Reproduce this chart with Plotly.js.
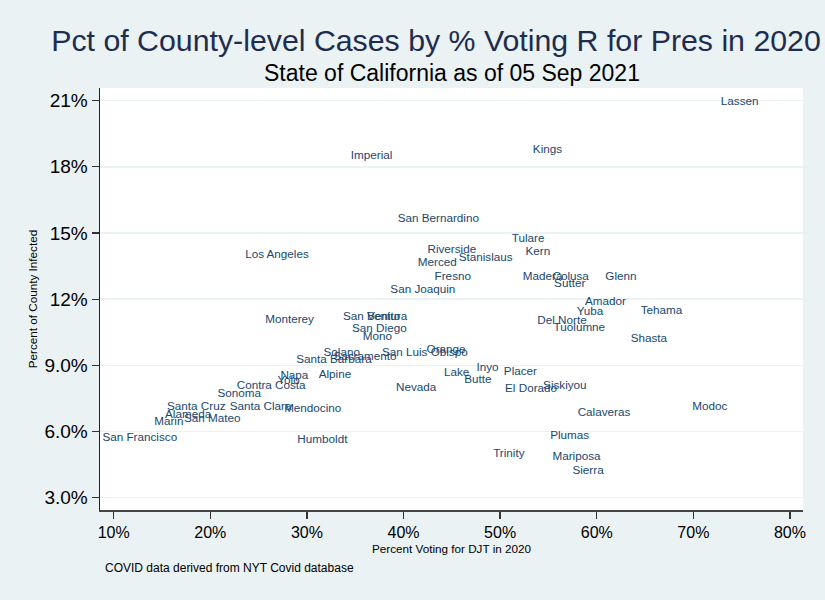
<!DOCTYPE html>
<html>
<head>
<meta charset="utf-8">
<script src="https://cdn.plot.ly/plotly-3.0.1.min.js"></script>
<style>html,body{margin:0;padding:0;background:#EAF2F3;}#chart{width:825px;height:600px;}</style>
</head>
<body>
<div id="chart"></div>
<script>
var counties = ["Lassen","Kings","Imperial","San Bernardino","Tulare","Kern","Riverside","Stanislaus","Merced","Los Angeles","Fresno","San Joaquin","Madera","Colusa","Sutter","Glenn","Amador","Yuba","Tehama","Del Norte","Tuolumne","Shasta","Placer","Inyo","Butte","Lake","El Dorado","Siskiyou","Calaveras","Modoc","Plumas","Trinity","Mariposa","Sierra","Nevada","Orange","San Luis Obispo","Sacramento","Solano","Santa Barbara","Alpine","San Benito","Ventura","San Diego","Mono","Monterey","Napa","Yolo","Contra Costa","Sonoma","Santa Cruz","Santa Clara","Mendocino","Alameda","San Mateo","Marin","San Francisco","Humboldt"];
var pctVotingDJT = [74.8,54.9,36.7,43.6,52.9,53.9,45.0,48.5,43.5,26.9,45.1,42.0,54.4,57.3,57.2,62.5,60.9,59.3,66.7,56.4,58.2,65.4,52.1,48.7,47.7,45.5,53.2,56.7,60.75,71.7,57.2,50.9,57.9,59.1,41.3,44.4,42.2,36.0,33.6,32.8,32.9,36.7,38.3,37.5,37.3,28.2,28.7,28.1,26.3,23.0,18.55,25.2,30.6,17.7,20.2,15.7,12.7,31.6];
var pctInfected = [20.94,18.77,18.49,15.64,14.73,14.14,14.24,13.87,13.65,14.01,13.01,12.42,13.0,13.0,12.69,13.0,11.89,11.41,11.44,10.99,10.71,10.19,8.68,8.87,8.31,8.65,7.92,8.04,6.84,7.11,5.81,4.98,4.84,4.19,7.97,9.67,9.55,9.37,9.55,9.22,8.54,11.21,11.19,10.64,10.28,11.06,8.49,8.30,8.04,7.70,7.11,7.11,7.03,6.76,6.58,6.41,5.70,5.59];
var xTickVals = [10,20,30,40,50,60,70,80];
var xTickText = ["10%","20%","30%","40%","50%","60%","70%","80%"];
var yTickVals = [3,6,9,12,15,18,21];
var yTickText = ["3.0%","6.0%","9.0%","12%","15%","18%","21%"];

var font = "Liberation Sans, Arial, sans-serif";
var trace = {
  x: pctVotingDJT, y: pctInfected, text: counties,
  mode: "text", type: "scatter", textposition: "middle center",
  textfont: {family: font, size: 11.7, color: "#1a476f"},
  hoverinfo: "text", showlegend: false, cliponaxis: false
};
var layout = {
  width: 825, height: 600,
  paper_bgcolor: "#EAF2F3", plot_bgcolor: "#ffffff",
  margin: {l: 100, r: 22, t: 88, b: 90},
  font: {family: font, color: "#000"},
  title: {text: "Pct of County-level Cases by % Voting R for Pres in 2020",
    font: {family: font, size: 30.3, color: "#1e2d4f"},
    xref: "container", yref: "container", x: 436/825, xanchor: "center",
    y: 1 - 40/600, yanchor: "middle"},
  xaxis: {range: [8.58, 81.35], tickvals: xTickVals, ticktext: xTickText,
    showgrid: false, zeroline: false, showline: true, linecolor: "#444", linewidth: 1.5,
    ticks: "outside", ticklen: 7, tickcolor: "#333", tickwidth: 1.3,
    tickfont: {family: font, size: 16, color: "#000"},
    title: {text: "Percent Voting for DJT in 2020", font: {family: font, size: 11.7, color: "#000"}, standoff: 5}},
  yaxis: {range: [2.44, 21.575], tickvals: yTickVals, ticktext: yTickText,
    showgrid: true, gridcolor: "#EAF2F3", gridwidth: 1.5, zeroline: false,
    showline: true, linecolor: "#222", linewidth: 1.5,
    ticks: "outside", ticklen: 7, tickcolor: "#333", tickwidth: 1.3,
    tickfont: {family: font, size: 19, color: "#000"},
    title: {text: "Percent of County Infected", font: {family: font, size: 11.7, color: "#000"}, standoff: 4}},
  annotations: [
    {text: "State of California as of 05 Sep 2021", xref: "paper", yref: "paper",
     x: 0.5, y: 1 + (88-73)/422, xanchor: "center", yanchor: "middle", showarrow: false,
     font: {family: font, size: 23, color: "#000"}},
    {text: "COVID data derived from NYT Covid database", xref: "paper", yref: "paper",
     x: (103-100)/703, y: -(568-510)/422, xanchor: "left", yanchor: "middle", showarrow: false,
     font: {family: font, size: 12, color: "#000"}}
  ]
};
Plotly.newPlot("chart", [trace], layout, {displayModeBar: false, staticPlot: true});
</script>
</body>
</html>
